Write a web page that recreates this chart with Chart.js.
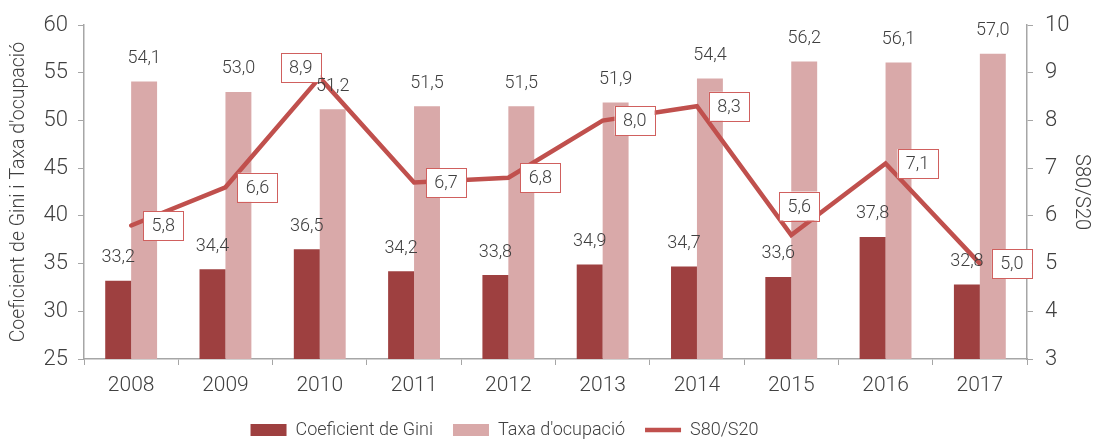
<!DOCTYPE html>
<html>
<head>
<meta charset="utf-8">
<script src="https://cdn.jsdelivr.net/npm/chart.js@4.4.1/dist/chart.umd.min.js"></script>
<style>
  html, body { margin: 0; padding: 0; background: #ffffff; }
  #wrap { width: 1101px; height: 441px; position: relative; }
</style>
</head>
<body>
<div id="wrap"><canvas id="myChart"></canvas></div>
<script>
// Data
const years = ['2008', '2009', '2010', '2011', '2012', '2013', '2014', '2015', '2016', '2017'];
const giniValues = [33.2, 34.4, 36.5, 34.2, 33.8, 34.9, 34.7, 33.6, 37.8, 32.8];
const taxaValues = [54.1, 53.0, 51.2, 51.5, 51.5, 51.9, 54.4, 56.2, 56.1, 57.0];
const s80s20Values = [5.8, 6.6, 8.9, 6.7, 6.8, 8.0, 8.3, 5.6, 7.1, 5.0];

const textColor = '#404040';
const axisColor = '#a6a6a6';
const fontFamily = 'Roboto, "Noto Sans", sans-serif';

// where each S80/S20 label box sits relative to its point
const lineLabelPlace = ['right', 'right', 'aboveLeft', 'right', 'right', 'right', 'right', 'above', 'right', 'right'];

function fmt(v) {
    return v.toFixed(1).replace('.', ',');
}

// simple value label plugin (no datalabels plugin available)
const valueLabels = {
    id: 'valueLabels',
    afterLayout(chart) {
        // legend in the original sits a bit left of centre
        if (chart.legend) {
            chart.legend.left -= 46;
            chart.legend.right -= 46;
        }
    },
    afterDatasetsDraw(chart) {
        const ctx = chart.ctx;
        ctx.save();
        ctx.font = '300 18px ' + fontFamily;
        ctx.textAlign = 'center';
        ctx.textBaseline = 'middle';
        chart.data.datasets.forEach((ds, di) => {
            const meta = chart.getDatasetMeta(di);
            meta.data.forEach((el, i) => {
                const v = ds.data[i];
                if (ds.type === 'line') {
                    const w = 40, h = 29;
                    let cx = el.x + 12 + w / 2, cy = el.y;
                    if (lineLabelPlace[i] === 'aboveLeft') { cx = el.x - 19; cy = el.y - 10; }
                    if (lineLabelPlace[i] === 'above') { cx = el.x + 8; cy = el.y - 29; }
                    ctx.fillStyle = '#ffffff';
                    ctx.fillRect(cx - w / 2, cy - h / 2, w, h);
                    ctx.strokeStyle = '#d0605e';
                    ctx.lineWidth = 1;
                    ctx.strokeRect(Math.round(cx - w / 2) + 0.5, Math.round(cy - h / 2) + 0.5, w, h);
                    ctx.fillStyle = textColor;
                    ctx.fillText(fmt(v), cx, cy + 1);
                } else {
                    ctx.fillStyle = textColor;
                    ctx.fillText(fmt(v), el.x, el.y - 23);
                }
            });
        });
        ctx.restore();
    }
};

const ctx = document.getElementById('myChart').getContext('2d');

const myChart = new Chart(ctx, {
    data: {
        labels: years,
        datasets: [
            {
                type: 'line',
                label: 'S80/S20',
                data: s80s20Values,
                yAxisID: 'y2',
                borderColor: '#c0504d',
                backgroundColor: '#c0504d',
                borderWidth: 4.5,
                borderCapStyle: 'round',
                pointStyle: 'line',
                pointRadius: 0,
                tension: 0,
                order: 0
            },
            {
                type: 'bar',
                label: 'Coeficient de Gini',
                data: giniValues,
                yAxisID: 'y',
                backgroundColor: '#9e4040',
                pointStyle: 'rect',
                categoryPercentage: 0.55,
                barPercentage: 1.0,
                order: 1
            },
            {
                type: 'bar',
                label: "Taxa d'ocupació",
                data: taxaValues,
                yAxisID: 'y',
                backgroundColor: '#d9a9a9',
                pointStyle: 'rect',
                categoryPercentage: 0.55,
                barPercentage: 1.0,
                order: 1
            }
        ]
    },
    options: {
        responsive: true,
        maintainAspectRatio: false,
        animation: false,
        layout: {
            padding: { top: 22, left: 0, right: 0, bottom: -8 }
        },
        plugins: {
            legend: {
                position: 'bottom',
                labels: {
                    usePointStyle: true,
                    pointStyleWidth: 36,
                    boxHeight: 12,
                    padding: 20,
                    color: textColor,
                    font: { family: fontFamily, size: 18, weight: '300' },
                    sort: (a, b) => {
                        const rank = { 'Coeficient de Gini': 0, "Taxa d'ocupació": 1, 'S80/S20': 2 };
                        return rank[a.text] - rank[b.text];
                    }
                }
            },
            tooltip: { enabled: false }
        },
        scales: {
            x: {
                offset: true,
                grid: {
                    drawOnChartArea: false,
                    offset: true,
                    color: axisColor,
                    tickLength: 6
                },
                border: { color: axisColor, width: 1.5 },
                ticks: {
                    color: textColor,
                    font: { family: fontFamily, size: 21, weight: '300' },
                    padding: 8
                },
                afterFit(scale) { scale.height = 42; }
            },
            y: {
                position: 'left',
                min: 25,
                max: 60,
                ticks: {
                    stepSize: 5,
                    color: textColor,
                    font: { family: fontFamily, size: 22, weight: '300' },
                    padding: 10
                },
                grid: {
                    drawOnChartArea: false,
                    color: axisColor,
                    tickLength: 6
                },
                border: { color: axisColor, width: 1.5 },
                title: {
                    display: true,
                    text: "Coeficient de Gini i Taxa d'ocupació",
                    color: textColor,
                    font: { family: fontFamily, size: 19.5, weight: '300' },
                    padding: { top: 7, bottom: 0 }
                },
                afterFit(scale) { scale.width = 84; }
            },
            y2: {
                position: 'right',
                min: 3,
                max: 10,
                ticks: {
                    stepSize: 1,
                    color: textColor,
                    font: { family: fontFamily, size: 22, weight: '300' },
                    padding: 12
                },
                grid: {
                    drawOnChartArea: false,
                    color: axisColor,
                    tickLength: 6
                },
                border: { color: axisColor, width: 1.5 },
                title: {
                    display: true,
                    text: 'S80/S20',
                    color: textColor,
                    font: { family: fontFamily, size: 20, weight: '300' },
                    padding: { top: 8, bottom: 0 }
                },
                afterFit(scale) { scale.width = 74; }
            }
        }
    },
    plugins: [valueLabels]
});
</script>
</body>
</html>
